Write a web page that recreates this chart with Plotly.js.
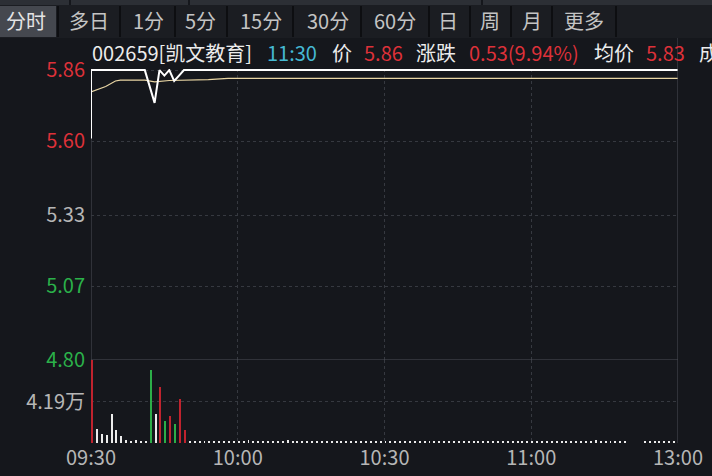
<!DOCTYPE html>
<html>
<head>
<meta charset="utf-8">
<script src="https://cdn.plot.ly/plotly-3.0.1.min.js"></script>
<style>
  html, body { margin: 0; padding: 0; background: #15171c; }
  #chart { width: 712px; height: 476px; }
</style>
</head>
<body>
<div id="chart"></div>
<script>
// ---- intraday data for 002659 (minute index counted from 09:30 open) ----
const timeTicks  = [0, 30, 60, 90, 120];
const timeLabels = ['09:30', '10:00', '10:30', '11:00', '13:00'];

// last-price path (points where the price changes)
const priceMin = [0, 0, 11, 12, 13, 14, 15, 16, 17, 18, 19, 120];
const price    = [5.61, 5.86, 5.86, 5.80, 5.74, 5.86, 5.84, 5.86, 5.82, 5.84, 5.86, 5.86];

// running average price
const avgMin   = [0, 3, 5, 6, 11, 13, 16, 24, 28, 120];
const avgPrice = [5.78, 5.80, 5.82, 5.823, 5.823, 5.817, 5.822, 5.825, 5.83, 5.83];

// price axis labels
const priceTicks  = [5.86, 5.60, 5.33, 5.07, 4.80];
const priceLabels = ['5.86', '5.60', '5.33', '5.07', '4.80'];
const prevClose   = 5.33;

// volume per minute (万)
const volume = [
  8.38, 1.44, 0.91, 0.84, 2.95, 1.34, 0.66, 0.33, 0.23, 0.33,
  0.23, 0.23, 7.37, 2.95, 5.63, 2.27, 2.75, 1.91, 4.43, 1.34,
  0.23, 0.20, 0.23, 0.20, 0.23, 0.20, 0.23, 0.20, 0.23, 0.20,
  0.23, 0.20, 0.33, 0.20, 0.23, 0.20, 0.23, 0.20, 0.23, 0.20,
  0.33, 0.20, 0.23, 0.20, 0.23, 0.20, 0.23, 0.20, 0.23, 0.20,
  0.23, 0.20, 0.23, 0.20, 0.23, 0.20, 0.23, 0.20, 0.23, 0.20,
  0.23, 0.20, 0.23, 0.20, 0.23, 0.20, 0.23, 0.20, 0.23, 0.20,
  0.23, 0.20, 0.23, 0.20, 0.23, 0.20, 0.23, 0.20, 0.23, 0.20,
  0.23, 0.20, 0.23, 0.20, 0.23, 0.20, 0.23, 0.20, 0.23, 0.20,
  0.23, 0.20, 0.23, 0.20, 0.23, 0.20, 0.23, 0.20, 0.23, 0.20,
  0.23, 0.20, 0.23, 0.33, 0.20, 0.23, 0.20, 0.23, 0.20, 0.20,
  0.00, 0.00, 0.00, 0.20, 0.23, 0.20, 0.23, 0.20, 0.23, 0.20,
  0.23
];
// tick direction per minute: r = up, g = down, w = unchanged
const volumeDir = 'rwwwwwwwwwwwgwrgrgrr';
const volumeMid = 4.19;
const volumeTop = 8.38;

// tab bar and quote line
const tabs = ['分时', '多日', '1分', '5分', '15分', '30分', '60分', '日', '周', '月', '更多'];
const quote = {
  code: '002659[凯文教育]', time: '11:30',
  priceLabel: '价', last: '5.86',
  changeLabel: '涨跌', change: '0.53(9.94%)',
  avgLabel: '均价', avg: '5.83', volLabel: '成'
};

// ---- styling ----
const BG = '#15171c';
const RED = '#dd3139';
const GREEN = '#2bb14a';
const GREY = '#b6b6b6';
const WHITE = '#ececec';
const CJK = '"Noto Sans CJK SC", "Noto Sans", sans-serif';

const barColor = { r: '#c0232e', g: '#2cae48', w: '#ececec' };
const volMin = volume.map((_, i) => i);
const volColors = volume.map((_, i) => barColor[volumeDir[i] || 'w']);

function tickColor(v) {
  if (v > prevClose) return RED;
  if (v < prevClose) return GREEN;
  return GREY;
}
const priceTickText = priceLabels.map((t, i) =>
  '<span style="color:' + tickColor(priceTicks[i]) + '">' + t + '</span>');

// plot box in page pixels
const L = 91, R = 678, T = 69, B = 443;
const volFrac = (B - 360) / (B - T);
const px = X => (X - L) / (R - L);
const py = Y => (B - Y) / (B - T);

const traces = [
  {
    type: 'bar', x: volMin, y: volume, xaxis: 'x', yaxis: 'y2',
    width: 0.4, offset: 0, marker: { color: volColors, line: { width: 0 } },
    hoverinfo: 'skip'
  },
  {
    type: 'scatter', mode: 'lines', x: avgMin, y: avgPrice, xaxis: 'x', yaxis: 'y',
    line: { color: '#e9d6a4', width: 1.2 }, hoverinfo: 'skip'
  },
  {
    type: 'scatter', mode: 'lines', x: priceMin, y: price, xaxis: 'x', yaxis: 'y',
    line: { color: '#ffffff', width: 2 }, hoverinfo: 'skip'
  }
];

// tab bar geometry
const tabCenters = [26, 89, 148, 200, 261, 328, 395, 448, 490, 532, 584];
const tabSeps = [58, 120, 175, 227, 293, 361, 429, 470, 511, 552, 616];
const topSeps = [70, 189, 482];

const shapes = [
  // top strip
  { type: 'rect', xref: 'paper', yref: 'paper', x0: px(0), x1: px(712), y0: py(5), y1: py(0),
    fillcolor: '#2c2f35', line: { width: 0 }, layer: 'below' },
  // tab row
  { type: 'rect', xref: 'paper', yref: 'paper', x0: px(0), x1: px(712), y0: py(38), y1: py(5),
    fillcolor: '#1b1d22', line: { width: 0 }, layer: 'below' },
  // active tab
  { type: 'rect', xref: 'paper', yref: 'paper', x0: px(0), x1: px(56), y0: py(37), y1: py(6),
    fillcolor: '#45484f', line: { width: 0 }, layer: 'below' },
  // price / volume divider at 4.80
  { type: 'line', xref: 'x', yref: 'y', x0: 0, x1: 120, y0: 4.80, y1: 4.80,
    line: { color: '#4c4f57', width: 1 } },
  // left axis
  { type: 'line', xref: 'x', yref: 'paper', x0: 0, x1: 0, y0: 0, y1: 1,
    line: { color: '#4c4f57', width: 1 }, layer: 'below' },
  // right border
  { type: 'line', xref: 'x', yref: 'paper', x0: 120, x1: 120, y0: 0, y1: py(38),
    line: { color: '#4c4f57', width: 1 } }
];
tabSeps.forEach(s => shapes.push({
  type: 'line', xref: 'paper', yref: 'paper', x0: px(s), x1: px(s), y0: py(37), y1: py(6),
  line: { color: '#0d0e11', width: 2 }
}));
topSeps.forEach(s => shapes.push({
  type: 'line', xref: 'paper', yref: 'paper', x0: px(s), x1: px(s), y0: py(5), y1: py(0),
  line: { color: '#15171c', width: 2 }
}));

const annotations = [];
tabs.forEach((t, i) => annotations.push({
  xref: 'paper', yref: 'paper', x: px(tabCenters[i]), y: py(21),
  xanchor: 'center', yanchor: 'middle', showarrow: false, text: t,
  font: { family: CJK, size: 20, color: i === 0 ? '#e4e4e4' : '#c4c4c4' }
}));

const quoteParts = [
  [quote.code, 90, WHITE], [quote.time, 265, '#45b9d3'],
  [quote.priceLabel, 330, WHITE], [quote.last, 362, RED],
  [quote.changeLabel, 414, WHITE], [quote.change, 467, RED],
  [quote.avgLabel, 592, WHITE], [quote.avg, 644, RED],
  [quote.volLabel, 697, WHITE]
];
quoteParts.forEach(([t, x, c]) => annotations.push({
  xref: 'paper', yref: 'paper', x: px(x), y: py(52),
  xanchor: 'left', yanchor: 'middle', showarrow: false, text: t,
  font: { family: CJK, size: 20, color: c }
}));

const layout = {
  width: 712, height: 476,
  paper_bgcolor: BG, plot_bgcolor: BG,
  margin: { l: L, r: 712 - R, t: T, b: 476 - B },
  showlegend: false,
  bargap: 0,
  font: { family: CJK, color: GREY, size: 20 },
  xaxis: {
    range: [0, 120], anchor: 'y2',
    tickvals: timeTicks, ticktext: timeLabels,
    showgrid: true, gridcolor: '#363940', griddash: 'dot', gridwidth: 1,
    zeroline: false, showline: false, ticks: '',
    tickfont: { family: CJK, size: 20, color: GREY },
    ticklabelstandoff: 1, fixedrange: true
  },
  yaxis: {
    domain: [volFrac, 1], range: [4.80, 5.864],
    tickvals: priceTicks, ticktext: priceTickText,
    showgrid: true, gridcolor: '#363940', griddash: 'dot', gridwidth: 1,
    zeroline: false, showline: false, ticks: '',
    tickfont: { family: CJK, size: 20, color: GREY },
    ticklabelstandoff: 5, fixedrange: true
  },
  yaxis2: {
    domain: [0, volFrac], range: [0, volumeTop],
    tickvals: [volumeMid], ticktext: [volumeMid.toFixed(2) + '万'],
    showgrid: true, gridcolor: '#363940', griddash: 'dot', gridwidth: 1,
    zeroline: false, showline: false, ticks: '',
    tickfont: { family: CJK, size: 20, color: GREY },
    ticklabelstandoff: 5, fixedrange: true
  },
  shapes: shapes,
  annotations: annotations
};

Plotly.newPlot('chart', traces, layout, { displayModeBar: false, staticPlot: true });
</script>
</body>
</html>
